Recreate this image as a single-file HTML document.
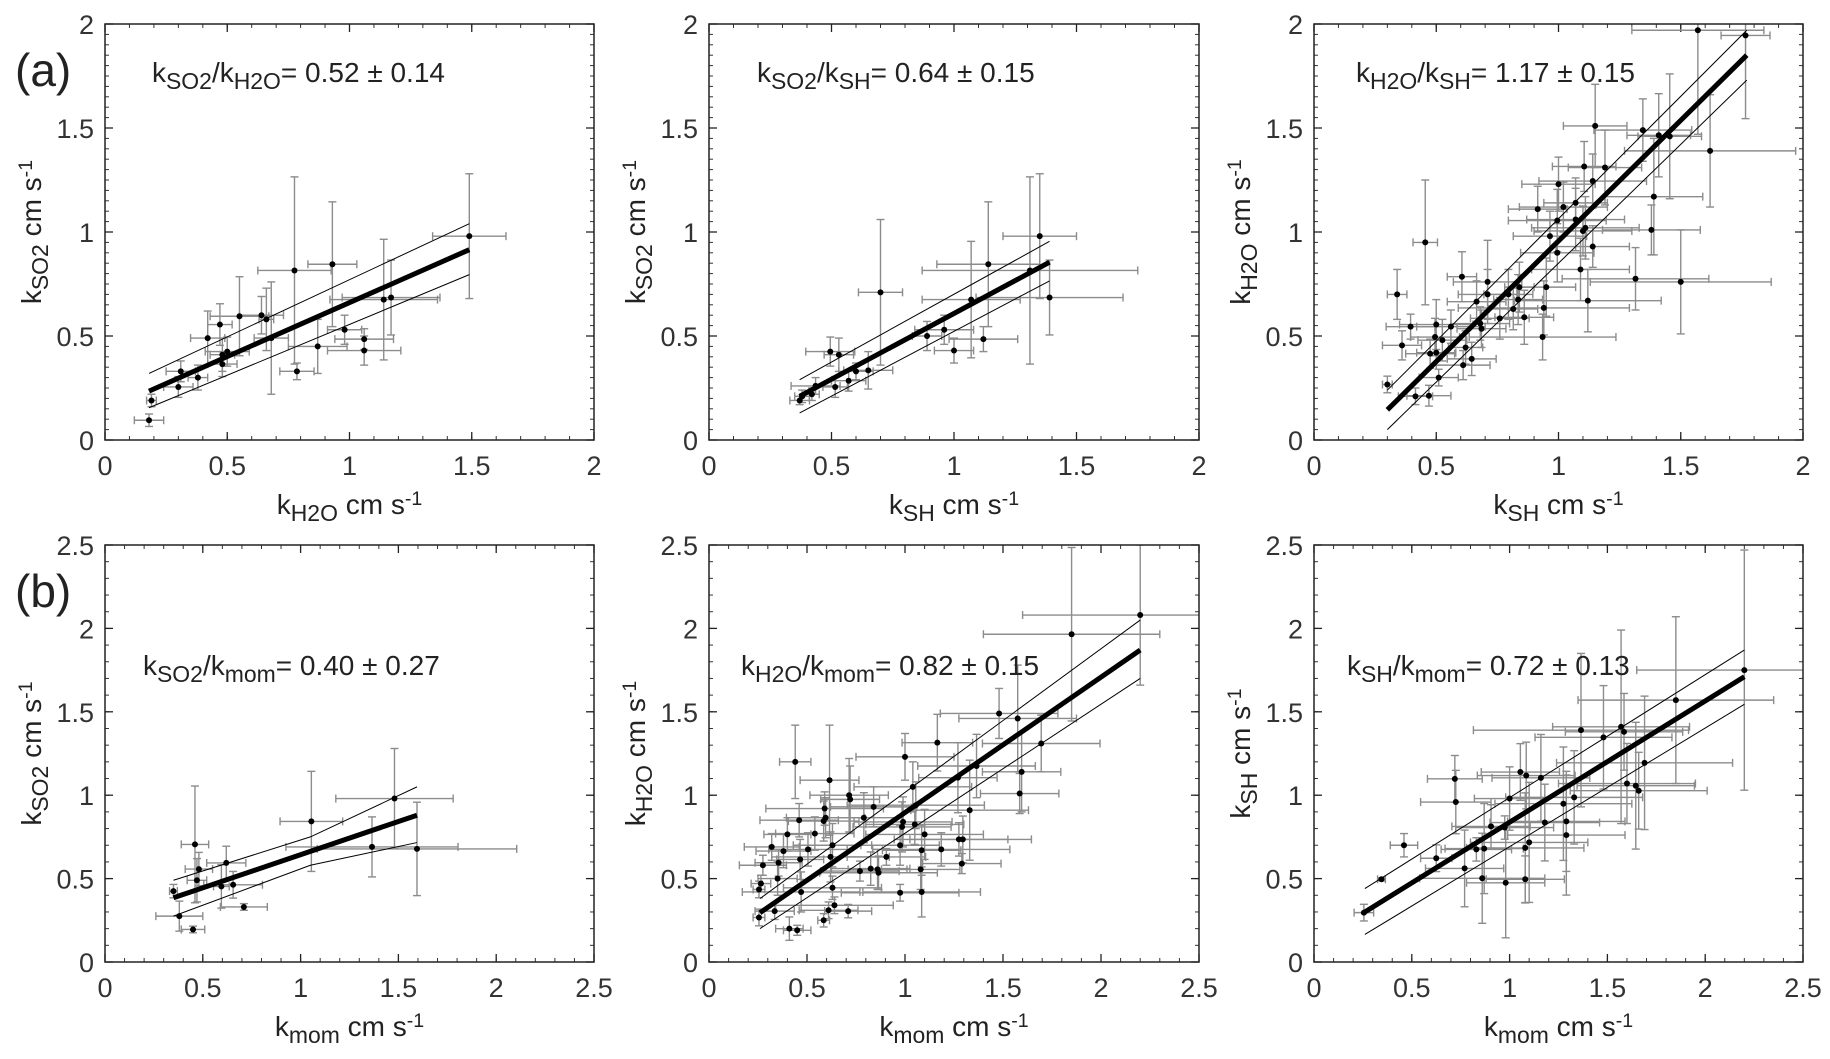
<!DOCTYPE html>
<html><head><meta charset="utf-8"><style>
html,body{margin:0;padding:0;background:#fff;overflow:hidden;}
svg{display:block;font-family:"Liberation Sans",Arial,sans-serif;}
</style></head><body>
<svg id="fig" width="1830" height="1059" viewBox="0 0 1830 1059" xmlns="http://www.w3.org/2000/svg"></svg>
<script>
// ---- data arrays ----
const a1X=[.18,.19,.30,.31,.38,.42,.47,.48,.48,.50,.55,.64,.66,.68,.775,.785,.87,.93,.98,1.06,1.06,1.14,1.17,1.49];
const a1Y=[.095,.19,.255,.33,.30,.49,.555,.365,.41,.425,.595,.60,.58,.49,.815,.33,.45,.845,.53,.485,.43,.675,.685,.98];
const a1XE=[.06,.02,.06,.06,.04,.07,.05,.06,.05,.09,.12,.09,.03,.07,.15,.07,.12,.10,.07,.12,.15,.22,.2,.15];
const a1YE=[.03,.03,.05,.05,.06,.13,.1,.06,.08,.07,.19,.09,.15,.27,.45,.04,.13,.3,.07,.05,.07,.29,.18,.3];
const a1Fit=[[.18,.235],[1.49,.915]], a1Up=[[.18,.32],[1.49,1.04]], a1Lo=[[.18,.155],[1.49,.795]];

const a2X=[.37,.38,.42,.435,.495,.53,.515,.57,.60,.65,.70,.89,.96,1.0,1.07,1.12,1.14,1.31,1.35,1.39];
const a2Y=[.19,.21,.22,.26,.425,.41,.255,.285,.33,.335,.71,.5,.53,.43,.675,.485,.845,.815,.98,.685];
const a2XE=[.04,.03,.03,.1,.1,.06,.05,.07,.07,.1,.09,.06,.12,.08,.2,.14,.21,.44,.15,.3];
const a2YE=[.02,.03,.03,.04,.07,.08,.05,.05,.04,.09,.35,.07,.07,.06,.28,.06,.3,.45,.3,.18];
const a2Fit=[[.37,.21],[1.39,.855]], a2Up=[[.37,.29],[1.39,.955]], a2Lo=[[.37,.13],[1.39,.765]];

const a3X=[.30,.34,.36,.395,.415,.455,.47,.475,.495,.50,.50,.51,.525,.56,.605,.61,.62,.645,.665,.68,.685,.71,.71,.76,.795,.815,.835,.84,.86,.915,.935,.94,.95,.965,.995,.995,1.0,1.02,1.07,1.07,1.09,1.10,1.105,1.11,1.12,1.14,1.14,1.15,1.19,1.315,1.345,1.38,1.39,1.41,1.455,1.50,1.57,1.62,1.765];
const a3Y=[.267,.70,.455,.545,.21,.95,.213,.415,.495,.42,.555,.30,.48,.545,.785,.36,.445,.39,.665,.56,.535,.76,.70,.585,.70,.63,.675,.735,.59,1.11,.495,.635,.735,.98,.90,1.055,1.23,1.12,1.14,1.06,.82,1.005,1.315,1.02,.67,1.245,.93,1.51,1.31,.775,1.49,1.01,1.17,1.465,1.46,.76,1.97,1.39,1.945];
const a3XE=[.02,.04,.08,.1,.07,.05,.09,.1,.1,.08,.15,.08,.1,.14,.06,.11,.07,.1,.12,.12,.1,.14,.12,.12,.1,.1,.1,.06,.12,.12,.3,.35,.12,.15,.15,.2,.15,.18,.13,.2,.2,.2,.13,.22,.3,.22,.15,.13,.15,.3,.2,.2,.2,.13,.13,.37,.27,.35,.1];
const a3YE=[.04,.12,.07,.06,.04,.3,.05,.07,.09,.06,.12,.04,.1,.08,.12,.07,.08,.08,.1,.08,.09,.2,.12,.1,.12,.1,.12,.12,.13,.11,.11,.13,.14,.12,.14,.15,.13,.12,.12,.15,.15,.12,.12,.15,.15,.13,.1,.2,.18,.15,.15,.12,.28,.2,.3,.25,.5,.27,.4];
const a3Fit=[[.30,.145],[1.77,1.85]], a3Up=[[.30,.24],[1.77,1.97]], a3Lo=[[.30,.05],[1.77,1.73]];

const b1X=[.35,.38,.46,.47,.48,.45,.595,.62,.655,.71,1.055,1.365,1.48,1.595];
const b1Y=[.425,.275,.705,.49,.557,.195,.453,.594,.463,.33,.843,.69,.98,.678];
const b1XE=[.02,.12,.07,.05,.07,.06,.04,.1,.15,.12,.16,.44,.3,.51];
const b1YE=[.04,.09,.35,.13,.1,.02,.13,.1,.08,.02,.3,.18,.3,.28];
const b1Fit=[[.35,.385],[1.595,.88]], b1Up=[[.35,.49],[1.05,.75],[1.595,1.05]], b1Lo=[[.35,.275],[1.05,.58],[1.595,.716]];

const b2X=[.255,.255,.265,.275,.32,.335,.35,.355,.38,.40,.41,.44,.45,.46,.465,.47,.505,.54,.585,.585,.59,.595,.61,.615,.62,.63,.63,.64,.71,.715,.72,.77,.79,.825,.84,.86,.865,.905,.975,.975,.985,.99,1.0,1.04,1.05,1.055,1.08,1.085,1.085,1.10,1.165,1.185,1.27,1.275,1.295,1.29,1.33,1.365,1.48,1.575,1.585,1.595,1.695,1.85,2.20];
const b2Y=[.267,.435,.47,.58,.69,.305,.50,.595,.665,.765,.20,1.2,.19,.85,.615,.42,.675,.77,.845,.25,.92,.865,.31,1.09,.63,.445,.70,.34,.305,1.0,.975,.545,.865,.56,.93,.555,.535,.63,.70,.415,.81,.84,1.23,1.05,.825,.94,.555,.67,.42,.765,1.315,.675,1.105,.735,.735,.59,.91,1.175,1.49,1.46,1.01,1.14,1.31,1.965,2.08];
const b2XE=[.03,.03,.05,.12,.14,.1,.1,.12,.14,.12,.07,.08,.07,.2,.12,.3,.2,.2,.18,.03,.3,.2,.15,.15,.3,.25,.2,.3,.12,.2,.15,.2,.2,.2,.22,.15,.3,.2,.2,.3,.25,.25,.25,.3,.25,.35,.2,.2,.3,.3,.18,.35,.2,.25,.35,.2,.3,.3,.3,.3,.2,.2,.3,.45,.6];
const b2YE=[.05,.05,.05,.06,.08,.05,.1,.08,.1,.1,.07,.22,.03,.1,.12,.12,.1,.1,.12,.04,.1,.12,.05,.33,.15,.07,.13,.05,.04,.22,.2,.06,.15,.1,.12,.12,.1,.05,.12,.05,.15,.15,.14,.15,.12,.14,.12,.15,.15,.15,.17,.1,.21,.1,.14,.06,.3,.19,.15,.32,.12,.24,.17,.52,.42];
const b2Fit=[[.26,.295],[2.20,1.87]], b2Up=[[.26,.38],[2.20,2.05]], b2Lo=[[.26,.20],[2.20,1.70]];

const b3X=[.255,.345,.46,.625,.72,.725,.77,.83,.86,.87,.905,.975,.98,1.0,1.055,1.08,1.08,1.085,1.10,1.16,1.18,1.275,1.29,1.29,1.33,1.365,1.48,1.57,1.585,1.60,1.645,1.66,1.69,1.85,2.20];
const b3Y=[.296,.496,.70,.622,1.098,.959,.561,.675,.502,.68,.813,.806,.475,.98,1.139,.684,.496,1.118,.717,1.104,.836,.949,.761,.843,.987,1.39,1.347,1.41,1.38,1.07,1.057,1.027,1.194,1.57,1.75];
const b3XE=[.05,.02,.07,.08,.14,.18,.2,.18,.32,.2,.2,.25,.2,.18,.2,.3,.2,.25,.3,.25,.28,.35,.3,.3,.35,.55,.35,.35,.3,.35,.3,.35,.45,.5,.55];
const b3YE=[.05,.01,.07,.08,.14,.19,.23,.07,.27,.27,.13,.07,.33,.19,.17,.33,.14,.2,.36,.26,.23,.34,.36,.3,.28,.46,.31,.58,.23,.24,.38,.23,.4,.5,.72];
const b3Fit=[[.26,.30],[2.20,1.71]], b3Up=[[.26,.44],[2.20,1.87]], b3Lo=[[.26,.165],[2.20,1.545]];

const ticksRow1=[0,0.5,1,1.5,2], ticksRow1Labels=["0","0.5","1","1.5","2"];
const ticksRow2=[0,0.5,1,1.5,2,2.5], ticksRow2Labels=["0","0.5","1","1.5","2","2.5"];

const NS="http://www.w3.org/2000/svg";
const svg=document.getElementById('fig');
const defs=document.createElementNS(NS,'defs');svg.appendChild(defs);
function el(tag,attrs,parent){const e=document.createElementNS(NS,tag);for(const k in attrs)e.setAttribute(k,attrs[k]);(parent||svg).appendChild(e);return e;}

function labelText(parent,x,y,parts,size,anchor,rot){
  const t=el('text',{x:x,y:y,'font-size':size,'text-anchor':anchor||'start',fill:'#222'},parent);
  if(rot)t.setAttribute('transform',rot);
  parts.forEach(p=>{const s=document.createElementNS(NS,'tspan');s.textContent=p[0];
    if(p[1]==='sub'){s.setAttribute('baseline-shift','-30%');s.setAttribute('font-size',size*0.82);}
    else if(p[1]==='sup'){s.setAttribute('baseline-shift','45%');s.setAttribute('font-size',size*0.7);}
    t.appendChild(s);});
  return t;
}
let clipN=0;
function panel(cfg){
  const g=el('g',{});
  
  
  const L=cfg.l,R=cfg.r,T=cfg.t,B=cfg.b,max=cfg.max;
  const sx=v=>L+(R-L)*v/max, sy=v=>B-(B-T)*v/max;
  const cid='clip'+(clipN++);
  const cp=el('clipPath',{id:cid},defs);el('rect',{x:L,y:T,width:R-L,height:B-T},cp);
  const mt=el('g',{stroke:'#333','stroke-width':1},g);
  
  
  for(let i=0;i<=Math.round(max/cfg.xm);i++){const x=sx(i*cfg.xm);
    el('line',{x1:x,y1:B,x2:x,y2:B-4},mt);el('line',{x1:x,y1:T,x2:x,y2:T+4},mt);}
  for(let i=0;i<=Math.round(max/cfg.ym);i++){const y=sy(i*cfg.ym);
    el('line',{x1:L,y1:y,x2:L+4,y2:y},mt);el('line',{x1:R,y1:y,x2:R-4,y2:y},mt);}
  cfg.ticks.forEach((v,i)=>{
    const x=sx(v),y=sy(v);
    el('line',{x1:x,y1:B,x2:x,y2:B-8,stroke:'#222','stroke-width':1.3},g);
    el('line',{x1:x,y1:T,x2:x,y2:T+8,stroke:'#222','stroke-width':1.3},g);
    el('line',{x1:L,y1:y,x2:L+8,y2:y,stroke:'#222','stroke-width':1.3},g);
    el('line',{x1:R,y1:y,x2:R-8,y2:y,stroke:'#222','stroke-width':1.3},g);
    const tx=el('text',{x:x,y:B+35,'font-size':27,'text-anchor':'middle',fill:'#333'},g);
    tx.textContent=cfg.tickLabels[i];
    
    
    const ty=el('text',{x:L-11,y:y+10,'font-size':27,'text-anchor':'end',fill:'#333'},g);
    ty.textContent=cfg.tickLabels[i];
    
    
  });
  const plot=el('g',{'clip-path':'url(#'+cid+')'},g);
  
  
  const eb=el('g',{stroke:'#8c8c8c','stroke-width':1.4,fill:'none'},plot);
  
  
  cfg.x.forEach((xv,i)=>{
    const x=sx(xv),y=sy(cfg.y[i]);
    const x0=sx(xv-cfg.xe[i]),x1=sx(xv+cfg.xe[i]),y0=sy(cfg.y[i]-cfg.ye[i]),y1=sy(cfg.y[i]+cfg.ye[i]);
    el('line',{x1:x0,y1:y,x2:x1,y2:y},eb);
    el('line',{x1:x0,y1:y-4,x2:x0,y2:y+4},eb);el('line',{x1:x1,y1:y-4,x2:x1,y2:y+4},eb);
    el('line',{x1:x,y1:y0,x2:x,y2:y1},eb);
    el('line',{x1:x-4,y1:y0,x2:x+4,y2:y0},eb);el('line',{x1:x-4,y1:y1,x2:x+4,y2:y1},eb);
  });
  const pts=a=>a.map(p=>sx(p[0])+','+sy(p[1])).join(' ');
  const up=el('polyline',{points:pts(cfg.up),fill:'none',stroke:'#000','stroke-width':1},plot);
  
  
  const lo=el('polyline',{points:pts(cfg.lo),fill:'none',stroke:'#000','stroke-width':1},plot);
  
  
  const fit=el('polyline',{points:pts(cfg.fit),fill:'none',stroke:'#000','stroke-width':5},plot);
  
  
  cfg.x.forEach((xv,i)=>{
    const c=el('circle',{cx:sx(xv),cy:sy(cfg.y[i]),r:3,fill:'#000'},plot);
    
    
  });
  const fr=el('rect',{x:L,y:T,width:R-L,height:B-T,fill:'none',stroke:'#222','stroke-width':1.5},g);
  
  
  const xl=labelText(g,(L+R)/2,B+74,[['k'],[cfg.xs,'sub'],[' cm s'],['-1','sup']],28,'middle');
  
  
  const cy=(T+B)/2, lx=L-64;
  const yl=labelText(g,lx,cy,[['k'],[cfg.ys,'sub'],[' cm s'],['-1','sup']],28,'middle','rotate(-90 '+lx+' '+cy+')');
  
  
  const an=labelText(g,cfg.ax,cfg.ay,[['k'],[cfg.an1,'sub'],['/k'],[cfg.an2,'sub'],[cfg.an3]],28,'start');
  
  
}

const r1={t:24,b:440,max:2,xm:0.1,ym:0.05,ticks:ticksRow1,tickLabels:ticksRow1Labels,ay:82};
const r2={t:545,b:962,max:2.5,xm:0.1,ym:0.1,ticks:ticksRow2,tickLabels:ticksRow2Labels,ay:675};
panel(Object.assign({},r1,{name:'panel-so2-vs-h2o',l:105,r:594,x:a1X,y:a1Y,xe:a1XE,ye:a1YE,fit:a1Fit,up:a1Up,lo:a1Lo,xs:'H2O',ys:'SO2',ax:152,an1:'SO2',an2:'H2O',an3:'= 0.52 ± 0.14'}));
panel(Object.assign({},r1,{name:'panel-so2-vs-sh',l:709,r:1199,x:a2X,y:a2Y,xe:a2XE,ye:a2YE,fit:a2Fit,up:a2Up,lo:a2Lo,xs:'SH',ys:'SO2',ax:757,an1:'SO2',an2:'SH',an3:'= 0.64 ± 0.15'}));
panel(Object.assign({},r1,{name:'panel-h2o-vs-sh',l:1314,r:1803,x:a3X,y:a3Y,xe:a3XE,ye:a3YE,fit:a3Fit,up:a3Up,lo:a3Lo,xs:'SH',ys:'H2O',ax:1356,an1:'H2O',an2:'SH',an3:'= 1.17 ± 0.15'}));
panel(Object.assign({},r2,{name:'panel-so2-vs-mom',l:105,r:594,x:b1X,y:b1Y,xe:b1XE,ye:b1YE,fit:b1Fit,up:b1Up,lo:b1Lo,xs:'mom',ys:'SO2',ax:143,an1:'SO2',an2:'mom',an3:'= 0.40 ± 0.27'}));
panel(Object.assign({},r2,{name:'panel-h2o-vs-mom',l:709,r:1199,x:b2X,y:b2Y,xe:b2XE,ye:b2YE,fit:b2Fit,up:b2Up,lo:b2Lo,xs:'mom',ys:'H2O',ax:741,an1:'H2O',an2:'mom',an3:'= 0.82 ± 0.15'}));
panel(Object.assign({},r2,{name:'panel-sh-vs-mom',l:1314,r:1803,x:b3X,y:b3Y,xe:b3XE,ye:b3YE,fit:b3Fit,up:b3Up,lo:b3Lo,xs:'mom',ys:'SH',ax:1347,an1:'SH',an2:'mom',an3:'= 0.72 ± 0.13'}));

const pa=el('text',{x:15,y:86,'font-size':46,fill:'#222'});
pa.textContent='(a)';


const pb=el('text',{x:15,y:607,'font-size':46,fill:'#222'});
pb.textContent='(b)';


</script>
</body></html>
